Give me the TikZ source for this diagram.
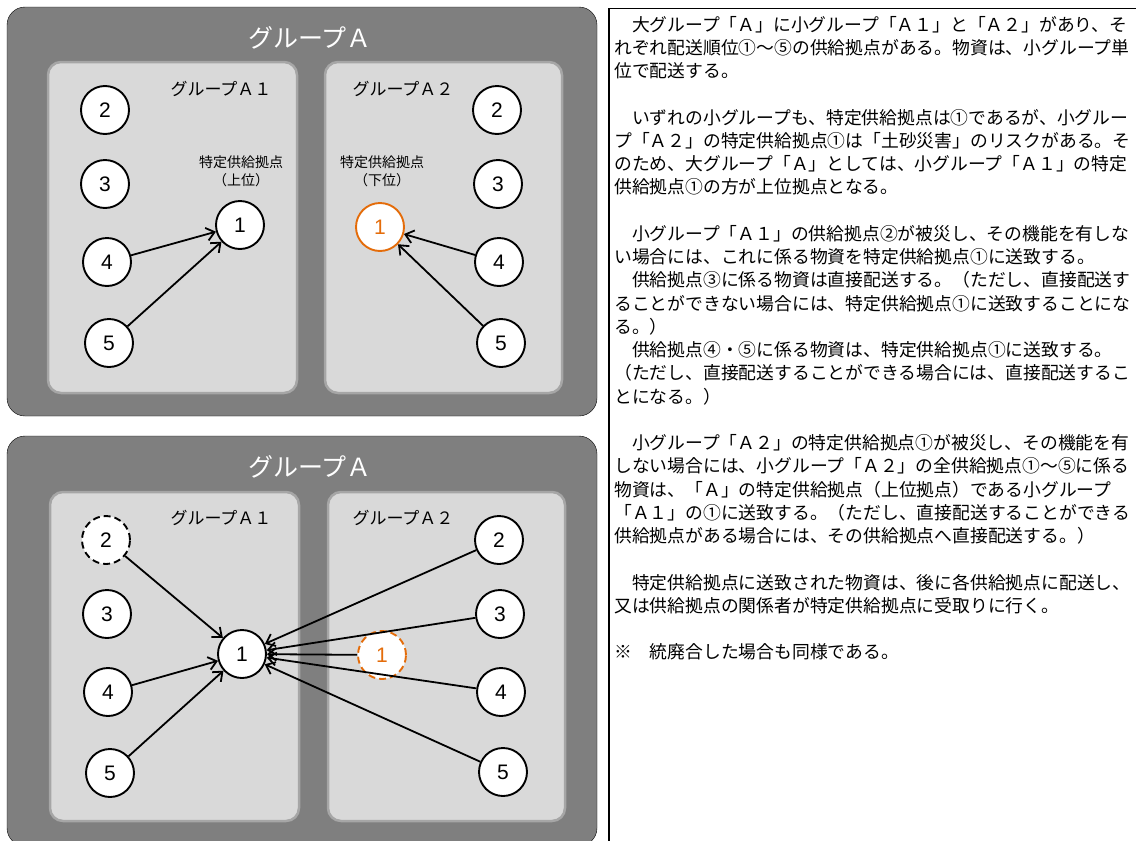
\documentclass[tikz,border=0pt]{standalone}
\usepackage{fontspec}
\setmainfont{Liberation Sans}
\newfontfamily\jp{Noto Sans CJK JP}
\usetikzlibrary{arrows.meta}
\definecolor{outergray}{HTML}{7F7F7F}
\definecolor{innergray}{HTML}{D9D9D9}
\definecolor{innerline}{HTML}{A6A6A6}
\definecolor{orng}{HTML}{E46C0A}
\begin{document}
\begin{tikzpicture}[x=1pt,y=-1pt,
  outerbox/.style={fill=outergray, rounded corners=18pt},
  innerbox/.style={fill=innergray, draw=innerline, line width=2.5pt, rounded corners=13pt},
  site/.style={circle, draw=black, fill=white, line width=1.9pt, minimum size=48pt, inner sep=0pt, font=\fontsize{21}{21}\selectfont},
  lost/.style={dash pattern=on 7pt off 4pt},
  orangesite/.style={draw=orng, text=orng},
  conn/.style={line width=1.8pt, -{Straight Barb[length=8pt,width=13pt,line width=1.8pt]}},
  title/.style={font=\jp\fontsize{25}{25}\selectfont, text=white},
  grouplabel/.style={font=\jp\fontsize{17}{17}\selectfont},
  keylabel/.style={font=\jp\fontsize{14}{18}\selectfont, align=center},
  bodyline/.style={font=\jp\fontsize{17.8}{23.25}\selectfont, anchor=base west, inner sep=0pt}
]
\useasboundingbox (0,0) rectangle (1136,841);

% ---------- top panel ----------
\draw[outerbox] (7,7) rectangle (597,416);
\draw[innerbox] (48,62) rectangle (297,393);
\draw[innerbox] (325,62) rectangle (562,393);
\node[title] (tt) at (310,38) {グループＡ};
\node[grouplabel] (tl1) at (221,89) {グループＡ１};
\node[grouplabel] (tl2) at (403,89) {グループＡ２};
\node[keylabel] (tk1) at (241,171) {特定供給拠点\\（上位）};
\node[keylabel] (tk2) at (382,171) {特定供給拠点\\（下位）};

\node[site] (ta2) at (105,110) {2};
\node[site] (ta3) at (105,184) {3};
\node[site] (ta4) at (107,262) {4};
\node[site] (ta5) at (109,343) {5};
\node[site] (ta1) at (240,225) {1};

\node[site, orangesite] (tb1) at (380,227) {1};
\node[site] (tb2) at (497,110) {2};
\node[site] (tb3) at (498,184) {3};
\node[site] (tb4) at (499,262) {4};
\node[site] (tb5) at (501,343) {5};

\draw[conn] (ta4) -- (ta1);
\draw[conn] (ta5) -- (ta1);
\draw[conn] (tb4) -- (tb1);
\draw[conn] (tb5) -- (tb1);

% ---------- bottom panel ----------
\draw[outerbox] (7,436) rectangle (597,846);
\draw[innerbox] (50,492) rectangle (299,821);
\draw[innerbox] (328,492) rectangle (565,821);
\node[title] (bt) at (310,467) {グループＡ};
\node[grouplabel] (bl1) at (221,518) {グループＡ１};
\node[grouplabel] (bl2) at (403,518) {グループＡ２};

\node[site, lost] (ba2) at (106,540) {2};
\node[site] (ba3) at (107,614) {3};
\node[site] (ba4) at (108,692) {4};
\node[site] (ba5) at (110,773) {5};
\node[site] (ba1) at (242,654) {1};

\node[site, orangesite, lost] (bb1) at (382,655) {1};
\node[site] (bb2) at (499,540) {2};
\node[site] (bb3) at (500,614) {3};
\node[site] (bb4) at (501,692) {4};
\node[site] (bb5) at (503,772) {5};

\draw[conn] (ba2) -- (ba1);
\draw[conn] (ba4) -- (ba1);
\draw[conn] (ba5) -- (ba1);
\draw[conn] (bb2) -- (ba1);
\draw[conn] (bb3) -- (ba1);
\draw[conn] (bb1) -- (ba1);
\draw[conn] (bb4) -- (ba1);
\draw[conn] (bb5) -- (ba1);

% ---------- text box ----------
\draw[line width=1.3pt] (609,850) -- (609,8.5) -- (1140,8.5);
\foreach \n/\t in {
 1/{　大グループ「Ａ」に小グループ「Ａ１」と「Ａ２」があり、そ},
 2/{れぞれ配送順位①～⑤の供給拠点がある。物資は、小グループ単},
 3/{位で配送する。},
 5/{　いずれの小グループも、特定供給拠点は①であるが、小グルー},
 6/{プ「Ａ２」の特定供給拠点①は「土砂災害」のリスクがある。そ},
 7/{のため、大グループ「Ａ」としては、小グループ「Ａ１」の特定},
 8/{供給拠点①の方が上位拠点となる。},
 10/{　小グループ「Ａ１」の供給拠点②が被災し、その機能を有しな},
 11/{い場合には、これに係る物資を特定供給拠点①に送致する。},
 12/{　供給拠点③に係る物資は直接配送する。（ただし、直接配送す},
 13/{ることができない場合には、特定供給拠点①に送致することにな},
 14/{る。）},
 15/{　供給拠点④・⑤に係る物資は、特定供給拠点①に送致する。},
 16/{（ただし、直接配送することができる場合には、直接配送するこ},
 17/{とになる。）},
 19/{　小グループ「Ａ２」の特定供給拠点①が被災し、その機能を有},
 20/{しない場合には、小グループ「Ａ２」の全供給拠点①～⑤に係る},
 21/{物資は、「Ａ」の特定供給拠点（上位拠点）である小グループ},
 22/{「Ａ１」の①に送致する。（ただし、直接配送することができる},
 23/{供給拠点がある場合には、その供給拠点へ直接配送する。）},
 25/{　特定供給拠点に送致された物資は、後に各供給拠点に配送し、},
 26/{又は供給拠点の関係者が特定供給拠点に受取りに行く。},
 28/{※　統廃合した場合も同様である。}}
 \node[bodyline] (line\n) at (614,{31+23.25*(\n-1)}) {\t};
\end{tikzpicture}
\end{document}
